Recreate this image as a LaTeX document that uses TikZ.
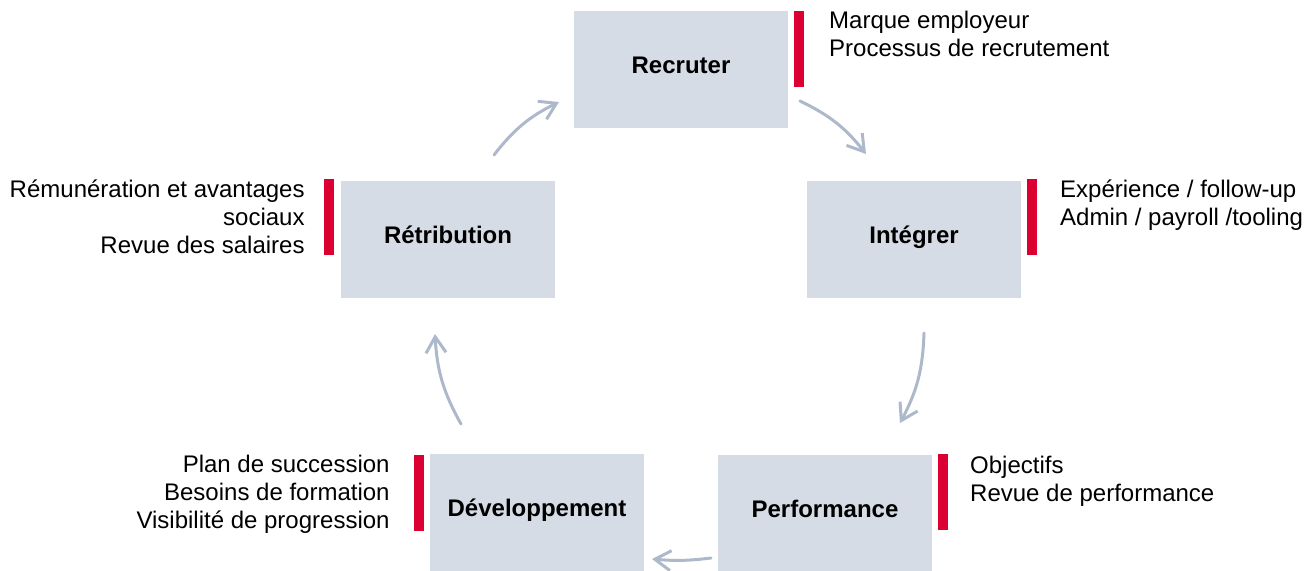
\documentclass[tikz,border=0pt]{standalone}
\usepackage{fontspec}
\setmainfont{Liberation Sans}
\usetikzlibrary{arrows.meta,calc}
\definecolor{boxgray}{RGB}{214,220,229}
\definecolor{barred}{RGB}{220,0,50}
\definecolor{arrgray}{RGB}{173,185,203}

\begin{document}
\begin{tikzpicture}[x=0.5pt,y=-0.5pt,
  box/.style={fill=boxgray,minimum width=107pt,minimum height=58.5pt,inner sep=0pt,
    text height=8pt,text depth=4pt,font=\fontsize{12}{14}\selectfont\bfseries},
  bar/.style={fill=barred,minimum width=5pt,minimum height=38pt,inner sep=0pt,anchor=north west},
  note/.style={inner sep=0pt,font=\fontsize{12}{14}\selectfont},
  cyc/.style={draw=arrgray,line width=1.5pt,line cap=round,
    -{Straight Barb[length=8pt,width=10pt]}}]

\useasboundingbox (0,0) rectangle (1310,571);

% the five steps
\node[box] (rec) at (681,69.5) {Recruter};
\node[box] (int) at (914,239.5) {Intégrer};
\node[box] (perf) at (825,513) {Performance};
\node[box] (dev) at (537,512.5) {Développement};
\node[box] (ret) at (448,239.5) {Rétribution};

% red bars
\node[bar] (recbar) at (794,11) {};
\node[bar] (intbar) at (1027,179) {};
\node[bar] (perfbar) at (938,454) {};
\node[bar] (devbar) at (414,455) {};
\node[bar] (retbar) at (324,179) {};

% notes
\node[note,align=left,anchor=north west] (rectxt) at ([xshift=12pt]recbar.north east)
  {Marque employeur\\Processus de recrutement};
\node[note,align=left,anchor=north west] (inttxt) at ([xshift=11pt]intbar.north east)
  {Expérience / follow-up\\Admin / payroll /tooling};
\node[note,align=left,anchor=north west] (perftxt) at ([xshift=10.5pt,yshift=-1pt]perfbar.north east)
  {Objectifs\\Revue de performance};
\node[note,align=right,anchor=north east] (devtxt) at ([xshift=-12pt]devbar.north west)
  {Plan de succession\\Besoins de formation\\Visibilité de progression};
\node[note,align=right,anchor=north east] (rettxt) at ([xshift=-9.5pt]retbar.north west)
  {Rémunération et avantages\\sociaux\\Revue des salaires};

% cycle arrows
\coordinate (ret-out) at (494,155);
\coordinate (rec-in) at (559,102);
\coordinate (rec-out) at (800,101);
\coordinate (int-in) at (866,154);
\coordinate (int-out) at (924,333);
\coordinate (perf-in) at (900,423);
\coordinate (perf-out) at (711,558);
\coordinate (dev-in) at (652,559);
\coordinate (dev-out) at (461,424);
\coordinate (ret-in) at (435,334);

\draw[cyc] (ret-out) to[bend left=13] (rec-in);
\draw[cyc] (rec-out) to[bend left=13] (int-in);
\draw[cyc] (int-out) to[bend left=13] (perf-in);
\draw[cyc] (perf-out) to[bend left=6] (dev-in);
\draw[cyc] (dev-out) to[bend left=13] (ret-in);

\end{tikzpicture}
\end{document}
